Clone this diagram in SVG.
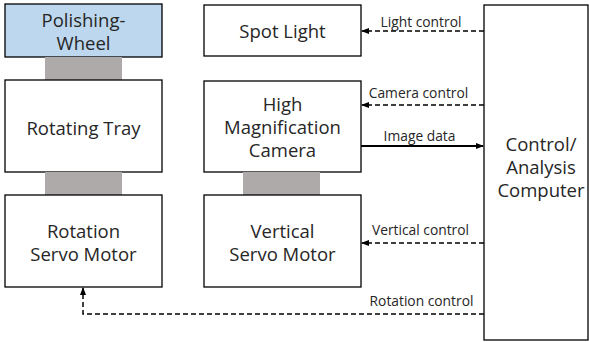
<svg xmlns="http://www.w3.org/2000/svg" width="589" height="342" viewBox="0 0 589 342">
<style>
.box{fill:#fff;stroke:#000;stroke-width:1.3}
.blue{fill:#BDD7EE}
.gray{fill:#AEAAAA;stroke:none}
.t{font-family:"Open Sans","Noto Sans",sans-serif;font-size:18.5px;fill:#262626;text-anchor:middle}
.l{font-family:"Open Sans","Noto Sans",sans-serif;font-size:13.8px;fill:#262626;text-anchor:middle}
.d{fill:none;stroke:#000;stroke-width:1.5;stroke-dasharray:5,3}
.s{fill:none;stroke:#000;stroke-width:2}
</style>
<defs>
<marker id="ah" markerWidth="8" markerHeight="8" refX="7" refY="4" orient="auto" markerUnits="userSpaceOnUse"><path d="M0,1 L8,4 L0,7 z" fill="#000"/></marker>
</defs>
<g id="polishing-wheel"><rect class="box blue" x="5" y="4" width="157" height="53"/><text class="t" x="83.5" y="27">Polishing-</text><text class="t" x="83.5" y="50">Wheel</text></g>
<g id="joint1"><rect class="gray" x="45" y="57" width="77" height="23"/></g>
<g id="rotating-tray"><rect class="box" x="5" y="80" width="157" height="92"/><text class="t" x="83.5" y="135">Rotating Tray</text></g>
<g id="joint2"><rect class="gray" x="45" y="172" width="77" height="23"/></g>
<g id="rotation-servo"><rect class="box" x="5" y="195" width="157" height="92"/><text class="t" x="83.5" y="238">Rotation</text><text class="t" x="83.5" y="261">Servo Motor</text></g>
<g id="spot-light"><rect class="box" x="204" y="5" width="157" height="51"/><text class="t" x="282.5" y="38">Spot Light</text></g>
<g id="camera"><rect class="box" x="204" y="81" width="157" height="91"/><text class="t" x="282.5" y="111">High</text><text class="t" x="282.5" y="134">Magnification</text><text class="t" x="282.5" y="157">Camera</text></g>
<g id="joint3"><rect class="gray" x="243" y="172" width="77" height="23"/></g>
<g id="vertical-servo"><rect class="box" x="204" y="195" width="157" height="92"/><text class="t" x="282.5" y="238">Vertical</text><text class="t" x="282.5" y="261">Servo Motor</text></g>
<g id="computer"><rect class="box" x="484" y="5" width="104" height="335"/><text class="t" x="541" y="151">Control/</text><text class="t" x="541" y="174">Analysis</text><text class="t" x="541" y="197">Computer</text></g>
<g id="connectors">
<path class="d" d="M484,31 H362" marker-end="url(#ah)"/>
<text class="l" x="421" y="27">Light control</text>
<path class="d" d="M484,105 H362" marker-end="url(#ah)"/>
<text class="l" x="418.5" y="98">Camera control</text>
<path class="s" d="M361,146 H483" marker-end="url(#ah)"/>
<text class="l" x="419.5" y="141">Image data</text>
<path class="d" d="M484,243 H362" marker-end="url(#ah)"/>
<text class="l" x="420.5" y="235">Vertical control</text>
<path class="d" d="M484,314 H83 V288" marker-end="url(#ah)"/>
<text class="l" x="421.5" y="306">Rotation control</text>
</g>
</svg>
